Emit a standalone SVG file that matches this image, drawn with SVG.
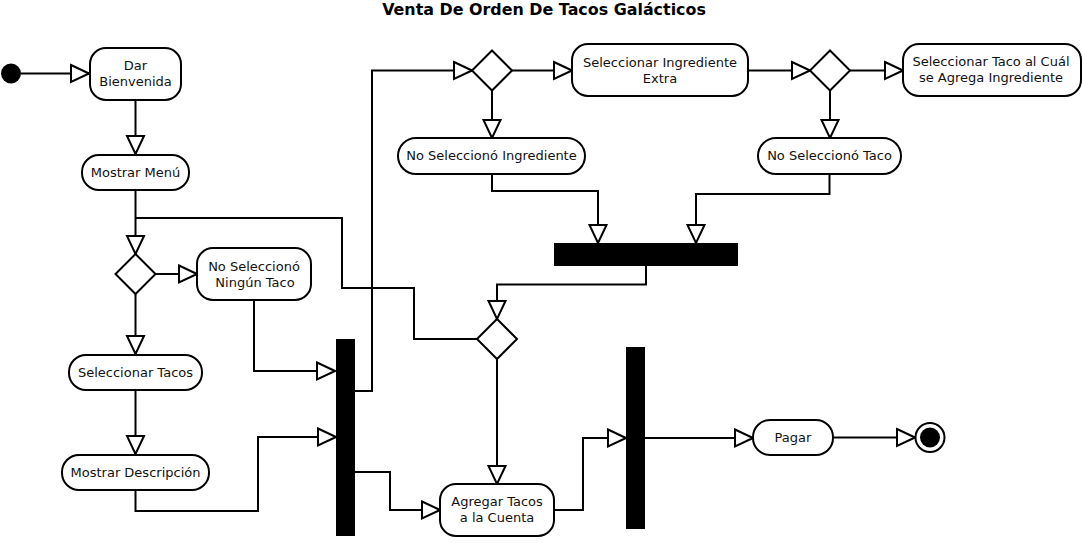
<svg xmlns="http://www.w3.org/2000/svg" width="1082" height="543" viewBox="0 0 1082 543">
<defs>
<style>
.n{fill:#fff;stroke:#000;stroke-width:2}
.b{fill:#000;stroke:none}
.t{font-family:"DejaVu Sans","Liberation Sans",sans-serif;font-size:13px;text-anchor:middle;fill:#111}
.title{font-family:"DejaVu Sans","Liberation Sans",sans-serif;font-size:15.9px;font-weight:bold;text-anchor:middle;fill:#000}
.c{fill:none;stroke:#000;stroke-width:2}
.a{marker-end:url(#arr)}
</style>
<marker id="arr" markerUnits="userSpaceOnUse" markerWidth="22" markerHeight="22" refX="18" refY="9" orient="auto" viewBox="-2 -2 22 22">
<path d="M0,0.5 L18,9 L0,17.5 Z" fill="#fff" stroke="#000" stroke-width="2"/>
</marker>
</defs>
<rect width="1082" height="543" fill="#fff"/>
<text class="title" x="544" y="15">Venta De Orden De Tacos Galácticos</text>

<g id="connectors">
<path class="c a" d="M21,73.5 H89"/>
<path class="c a" d="M135.5,100 V154"/>
<path class="c a" d="M135.5,190 V254"/>
<path class="c" d="M135.5,218 H342 V288 H414 V339 H477"/>
<path class="c a" d="M155,274 H197"/>
<path class="c a" d="M135.5,294 V354"/>
<path class="c a" d="M254,300 V371 H335"/>
<path class="c a" d="M135.5,390 V454"/>
<path class="c a" d="M135.5,490 V511 H258 V437 H336"/>
<path class="c a" d="M355,391 H372 V70.5 H472"/>
<path class="c a" d="M355,472 H390 V510 H440"/>
<path class="c a" d="M512,70.5 H572"/>
<path class="c a" d="M492,90.5 V138"/>
<path class="c a" d="M748,70.5 H810"/>
<path class="c a" d="M850,70.5 H903"/>
<path class="c a" d="M830,90.5 V138"/>
<path class="c a" d="M492,174 V191 H598 V243"/>
<path class="c a" d="M829.5,174 V194 H696 V243"/>
<path class="c a" d="M646,266 V284.5 H497 V319"/>
<path class="c a" d="M497,359 V484"/>
<path class="c a" d="M554,510 H583 V438 H626"/>
<path class="c a" d="M645,438 H753"/>
<path class="c a" d="M833,437.5 H915"/>
</g>

<g id="start"><circle cx="11" cy="73.5" r="10" fill="#000"/></g>
<g id="dar"><rect class="n" x="90" y="48" width="91" height="52" rx="16"/><text class="t" x="135.5" y="70">Dar</text><text class="t" x="135.5" y="86">Bienvenida</text></g>
<g id="menu"><rect class="n" x="82" y="155" width="107" height="35" rx="17"/><text class="t" x="135.5" y="177">Mostrar Menú</text></g>
<g id="d1"><polygon class="n" points="135.5,254 155.5,274 135.5,294 115.5,274"/></g>
<g id="noNingun"><rect class="n" x="197" y="248" width="114" height="52" rx="16"/><text class="t" x="254" y="271">No Seleccionó</text><text class="t" x="255" y="287">Ningún Taco</text></g>
<g id="selTacos"><rect class="n" x="69" y="355" width="133" height="35" rx="17"/><text class="t" x="135.5" y="377">Seleccionar Tacos</text></g>
<g id="mostrarDesc"><rect class="n" x="62" y="455" width="147" height="35" rx="17"/><text class="t" x="135.5" y="477">Mostrar Descripción</text></g>
<g id="fork1"><rect class="b" x="336" y="339" width="19" height="197"/></g>
<g id="d2"><polygon class="n" points="492,50.5 512,70.5 492,90.5 472,70.5"/></g>
<g id="selIng"><rect class="n" x="572" y="44" width="176" height="52" rx="16"/><text class="t" x="660" y="67">Seleccionar Ingrediente</text><text class="t" x="660" y="83">Extra</text></g>
<g id="d3"><polygon class="n" points="830,50.5 850,70.5 830,90.5 810,70.5"/></g>
<g id="selTaco"><rect class="n" x="903" y="44" width="178" height="52" rx="16"/><text class="t" x="991" y="66">Seleccionar Taco al Cuál</text><text class="t" x="991" y="82">se Agrega Ingrediente</text></g>
<g id="noIng"><rect class="n" x="398" y="138" width="187" height="36" rx="18"/><text class="t" x="491.5" y="160">No Seleccionó Ingrediente</text></g>
<g id="noTaco"><rect class="n" x="758" y="138" width="143" height="36" rx="18"/><text class="t" x="829.5" y="160">No Seleccionó Taco</text></g>
<g id="join"><rect class="b" x="554" y="243" width="184" height="23"/></g>
<g id="d4"><polygon class="n" points="497,319 517,339 497,359 477,339"/></g>
<g id="agregar"><rect class="n" x="440" y="484" width="114" height="52" rx="16"/><text class="t" x="497" y="506">Agregar Tacos</text><text class="t" x="497" y="522">a la Cuenta</text></g>
<g id="fork2"><rect class="b" x="626" y="347" width="19" height="182"/></g>
<g id="pagar"><rect class="n" x="753" y="420" width="80" height="35" rx="17"/><text class="t" x="793" y="442">Pagar</text></g>
<g id="final"><circle cx="930" cy="437.5" r="14.5" fill="#fff" stroke="#000" stroke-width="2"/><circle cx="930" cy="437.5" r="10" fill="#000"/></g>
</svg>
